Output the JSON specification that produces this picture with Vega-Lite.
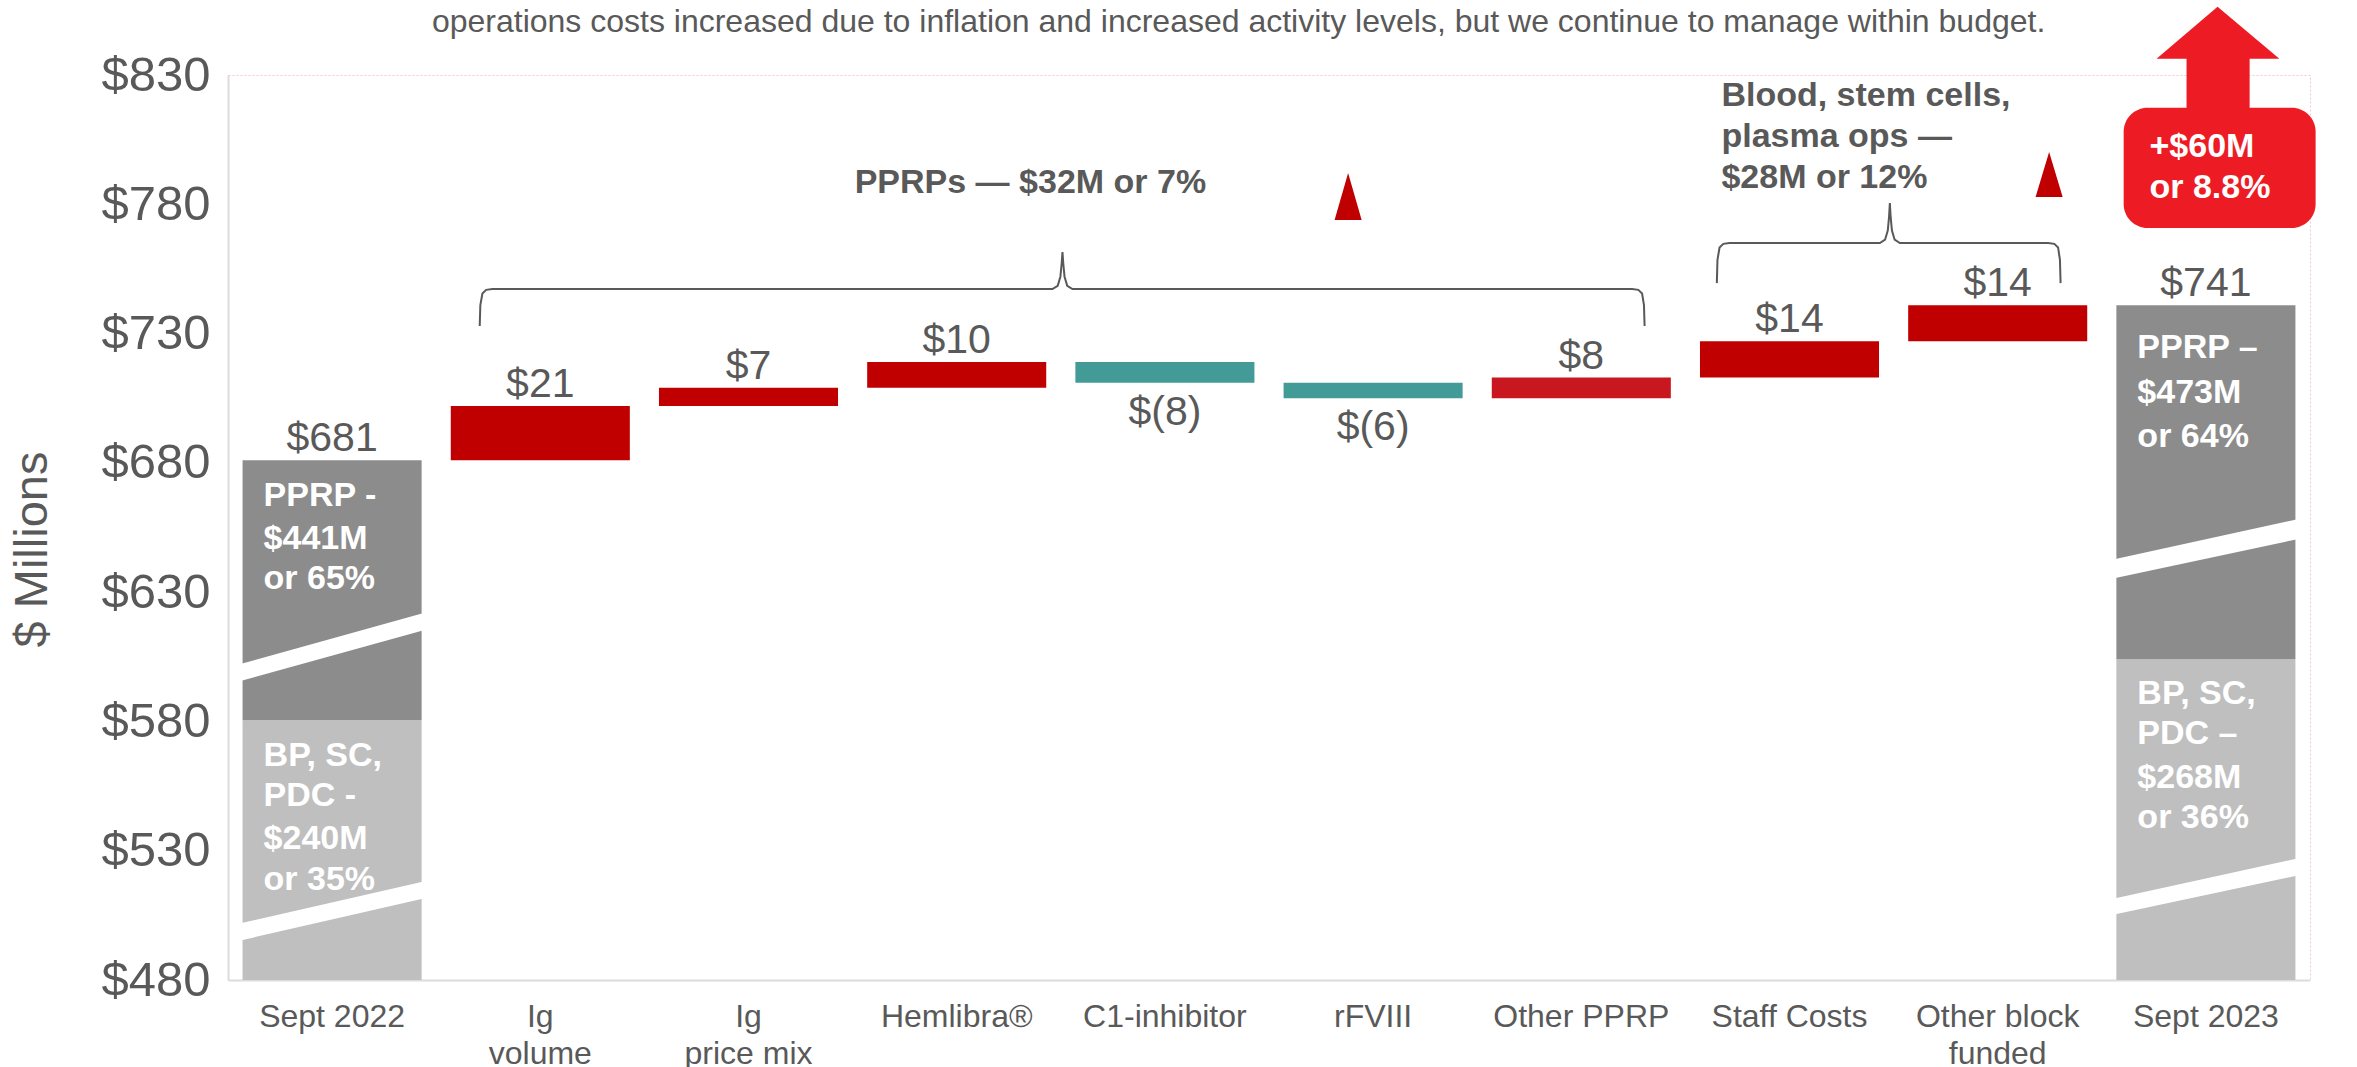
{
  "$schema": "https://vega.github.io/schema/vega-lite/v6.json",
  "width": 2082,
  "height": 905,
  "autosize": {"type": "none"},
  "padding": {"left": 228, "top": 75, "right": 47, "bottom": 87},
  "background": "white",
  "config": {
    "font": "Liberation Sans",
    "view": {"stroke": "#f3c9cc", "strokeDash": [2, 2], "strokeWidth": 1},
    "axis": {"grid": false, "ticks": false, "tickSize": 0, "labelColor": "#595959", "titleColor": "#595959", "labelFont": "Liberation Sans", "titleFont": "Liberation Sans", "domainColor": "#dcdcdc", "domainWidth": 2}
  },
  "datasets": {
    "bars": [
      {"cat": "Sept 2022", "y0": 480, "y1": 580.5, "kind": "light"},
      {"cat": "Sept 2022", "y0": 580.5, "y1": 681, "kind": "dark"},
      {"cat": "Ig volume", "y0": 681, "y1": 702, "kind": "up"},
      {"cat": "Ig price mix", "y0": 702, "y1": 709, "kind": "up"},
      {"cat": "Hemlibra®", "y0": 709, "y1": 719, "kind": "up"},
      {"cat": "C1-inhibitor", "y0": 711, "y1": 719, "kind": "down"},
      {"cat": "rFVIII", "y0": 705, "y1": 711, "kind": "down"},
      {"cat": "Other PPRP", "y0": 705, "y1": 713, "kind": "up2"},
      {"cat": "Staff Costs", "y0": 713, "y1": 727, "kind": "up"},
      {"cat": "Other block funded", "y0": 727, "y1": 741, "kind": "up"},
      {"cat": "Sept 2023", "y0": 480, "y1": 604, "kind": "light"},
      {"cat": "Sept 2023", "y0": 604, "y1": 741, "kind": "dark"}
    ],
    "labels": [
      {"cat": "Sept 2022", "v": 681, "t": "$681", "side": "above"},
      {"cat": "Ig volume", "v": 702, "t": "$21", "side": "above"},
      {"cat": "Ig price mix", "v": 709, "t": "$7", "side": "above"},
      {"cat": "Hemlibra®", "v": 719, "t": "$10", "side": "above"},
      {"cat": "C1-inhibitor", "v": 711, "t": "$(8)", "side": "below"},
      {"cat": "rFVIII", "v": 705, "t": "$(6)", "side": "below"},
      {"cat": "Other PPRP", "v": 713, "t": "$8", "side": "above"},
      {"cat": "Staff Costs", "v": 727, "t": "$14", "side": "above"},
      {"cat": "Other block funded", "v": 741, "t": "$14", "side": "above"},
      {"cat": "Sept 2023", "v": 741, "t": "$741", "side": "above"}
    ],
    "inbar": [
      {"cat": "Sept 2022", "v": 663.2, "t": "PPRP -"},
      {"cat": "Sept 2022", "v": 646.6, "t": "$441M"},
      {"cat": "Sept 2022", "v": 631.1, "t": "or 65%"},
      {"cat": "Sept 2022", "v": 562.6, "t": "BP, SC,"},
      {"cat": "Sept 2022", "v": 547.1, "t": "PDC -"},
      {"cat": "Sept 2022", "v": 530.5, "t": "$240M"},
      {"cat": "Sept 2022", "v": 515.0, "t": "or 35%"},
      {"cat": "Sept 2023", "v": 720.5, "t": "PPRP –"},
      {"cat": "Sept 2023", "v": 703.1, "t": "$473M"},
      {"cat": "Sept 2023", "v": 686.1, "t": "or 64%"},
      {"cat": "Sept 2023", "v": 586.6, "t": "BP, SC,"},
      {"cat": "Sept 2023", "v": 571.1, "t": "PDC –"},
      {"cat": "Sept 2023", "v": 554.1, "t": "$268M"},
      {"cat": "Sept 2023", "v": 538.6, "t": "or 36%"}
    ],
    "breaks": [
      {"id": "a1", "u": 0.06, "t": 602.2, "b": 595.6},
      {"id": "a1", "u": 0.94, "t": 621.9, "b": 615.3},
      {"id": "a2", "u": 0.06, "t": 501.9, "b": 495.3},
      {"id": "a2", "u": 0.94, "t": 518.1, "b": 511.5},
      {"id": "b1", "u": 9.06, "t": 642.7, "b": 635.4},
      {"id": "b1", "u": 9.94, "t": 658.2, "b": 650.5},
      {"id": "b2", "u": 9.06, "t": 511.5, "b": 505.3},
      {"id": "b2", "u": 9.94, "t": 527.0, "b": 520.4}
    ],
    "braces": [
      {"id": "p", "u": 1.209, "v": 732.9},
      {"id": "p", "u": 1.212, "v": 741.0},
      {"id": "p", "u": 1.222, "v": 745.5},
      {"id": "p", "u": 1.240, "v": 746.9},
      {"id": "p", "u": 1.270, "v": 747.2},
      {"id": "p", "u": 3.960, "v": 747.2},
      {"id": "p", "u": 3.985, "v": 748.5},
      {"id": "p", "u": 3.998, "v": 752.0},
      {"id": "p", "u": 4.004, "v": 757.0},
      {"id": "p", "u": 4.008, "v": 761.5},
      {"id": "p", "u": 4.012, "v": 757.0},
      {"id": "p", "u": 4.018, "v": 752.0},
      {"id": "p", "u": 4.031, "v": 748.5},
      {"id": "p", "u": 4.056, "v": 747.2},
      {"id": "p", "u": 6.744, "v": 747.2},
      {"id": "p", "u": 6.774, "v": 746.9},
      {"id": "p", "u": 6.792, "v": 745.5},
      {"id": "p", "u": 6.801, "v": 741.0},
      {"id": "p", "u": 6.804, "v": 732.9},
      {"id": "b", "u": 7.151, "v": 749.5},
      {"id": "b", "u": 7.154, "v": 758.5},
      {"id": "b", "u": 7.164, "v": 763.3},
      {"id": "b", "u": 7.182, "v": 764.7},
      {"id": "b", "u": 7.212, "v": 765.0},
      {"id": "b", "u": 7.934, "v": 765.0},
      {"id": "b", "u": 7.959, "v": 766.3},
      {"id": "b", "u": 7.972, "v": 769.8},
      {"id": "b", "u": 7.978, "v": 775.0},
      {"id": "b", "u": 7.982, "v": 780.5},
      {"id": "b", "u": 7.986, "v": 775.0},
      {"id": "b", "u": 7.992, "v": 769.8},
      {"id": "b", "u": 8.005, "v": 766.3},
      {"id": "b", "u": 8.030, "v": 765.0},
      {"id": "b", "u": 8.742, "v": 765.0},
      {"id": "b", "u": 8.772, "v": 764.7},
      {"id": "b", "u": 8.790, "v": 763.3},
      {"id": "b", "u": 8.799, "v": 758.5},
      {"id": "b", "u": 8.802, "v": 749.5}
    ],
    "tris": [
      {"id": "s1", "u": 5.315, "t": 773.9, "b": 773.9, "kind": "small"},
      {"id": "s1", "u": 5.380, "t": 792.1, "b": 773.9, "kind": "small"},
      {"id": "s1", "u": 5.445, "t": 773.9, "b": 773.9, "kind": "small"},
      {"id": "s2", "u": 8.682, "t": 782.8, "b": 782.8, "kind": "small"},
      {"id": "s2", "u": 8.747, "t": 800.2, "b": 782.8, "kind": "small"},
      {"id": "s2", "u": 8.812, "t": 782.8, "b": 782.8, "kind": "small"},
      {"id": "h", "u": 9.263, "t": 836.3, "b": 836.3, "kind": "big"},
      {"id": "h", "u": 9.556, "t": 856.4, "b": 836.3, "kind": "big"},
      {"id": "h", "u": 9.853, "t": 836.3, "b": 836.3, "kind": "big"}
    ],
    "shaft": [{"u0": 9.407, "u1": 9.710, "v0": 815.0, "v1": 836.8}],
    "box": [{"u0": 9.105, "u1": 10.027, "v0": 770.8, "v1": 817.3}],
    "boxtext": [
      {"u": 9.229, "v": 798.3, "t": "+$60M"},
      {"u": 9.229, "v": 782.4, "t": "or 8.8%"}
    ],
    "notes": [
      {"u": 3.010, "v": 784.4, "t": "PPRPs — $32M or 7%"},
      {"u": 7.173, "v": 818.0, "t": "Blood, stem cells,"},
      {"u": 7.173, "v": 802.1, "t": "plasma ops —"},
      {"u": 7.173, "v": 786.3, "t": "$28M or 12%"}
    ],
    "headline": [
      {"u": 4.854, "v": 846.7, "t": "operations costs increased due to inflation and increased activity levels, but we continue to manage within budget."}
    ]
  },
  "layer": [
    {
      "layer": [
        {
          "data": {"name": "bars"},
          "mark": {"type": "bar"},
          "encoding": {
            "x": {
              "field": "cat", "type": "nominal",
              "scale": {"type": "band", "domain": ["Sept 2022", "Ig volume", "Ig price mix", "Hemlibra®", "C1-inhibitor", "rFVIII", "Other PPRP", "Staff Costs", "Other block funded", "Sept 2023"], "paddingInner": 0.14, "paddingOuter": 0.07},
              "axis": {
                "title": null, "labelAngle": 0, "labelFontSize": 32, "labelPadding": 21, "labelBaseline": "top", "labelLineHeight": 37,
                "labelExpr": "datum.value == 'Ig volume' ? ['Ig', 'volume'] : datum.value == 'Ig price mix' ? ['Ig', 'price mix'] : datum.value == 'Other block funded' ? ['Other block', 'funded'] : datum.value"
              }
            },
            "y": {
              "field": "y1", "type": "quantitative",
              "scale": {"domain": [480, 830], "nice": false, "zero": false},
              "axis": {
                "values": [480, 530, 580, 630, 680, 730, 780, 830], "labelExpr": "'$' + datum.value",
                "labelFontSize": 49, "labelPadding": 18, "title": "$ Millions", "titleFontSize": 47, "titleFontWeight": "normal",
                "titleX": -196, "titleY": 474, "titleAngle": 270, "titleAlign": "center", "titleBaseline": "middle"
              }
            },
            "y2": {"field": "y0"},
            "color": {
              "field": "kind", "type": "nominal", "legend": null,
              "scale": {"domain": ["light", "dark", "up", "down", "up2"], "range": ["#bfbfbf", "#8c8c8c", "#c00000", "#439b97", "#c8171e"]}
            }
          }
        },
        {
          "data": {"name": "labels"},
          "transform": [{"filter": "datum.side == 'above'"}],
          "mark": {"type": "text", "fontSize": 41, "color": "#595959", "align": "center", "baseline": "alphabetic", "dy": -9},
          "encoding": {
            "x": {"field": "cat", "type": "nominal", "title": null},
            "y": {"field": "v", "type": "quantitative", "title": "$ Millions"},
            "text": {"field": "t"}
          }
        },
        {
          "data": {"name": "labels"},
          "transform": [{"filter": "datum.side == 'below'"}],
          "mark": {"type": "text", "fontSize": 41, "color": "#595959", "align": "center", "baseline": "alphabetic", "dy": 42},
          "encoding": {
            "x": {"field": "cat", "type": "nominal", "title": null},
            "y": {"field": "v", "type": "quantitative", "title": "$ Millions"},
            "text": {"field": "t"}
          }
        },
        {
          "data": {"name": "inbar"},
          "mark": {"type": "text", "fontSize": 34, "fontWeight": "bold", "color": "#ffffff", "align": "left", "baseline": "alphabetic", "dx": 21},
          "encoding": {
            "x": {"field": "cat", "type": "nominal", "bandPosition": 0, "title": null},
            "y": {"field": "v", "type": "quantitative", "title": "$ Millions"},
            "text": {"field": "t"}
          }
        }
      ]
    },
    {
      "layer": [
        {
          "data": {"name": "breaks"},
          "mark": {"type": "area", "color": "#ffffff", "opacity": 1},
          "encoding": {
            "x": {"field": "u", "type": "quantitative", "axis": null, "scale": {"domain": [0, 10], "nice": false, "zero": false}},
            "y": {"field": "t", "type": "quantitative", "title": "$ Millions"},
            "y2": {"field": "b"},
            "detail": {"field": "id"}
          }
        },
        {
          "data": {"name": "braces"},
          "mark": {"type": "line", "color": "#595959", "strokeWidth": 2},
          "encoding": {
            "x": {"field": "u", "type": "quantitative", "axis": null, "scale": {"domain": [0, 10], "nice": false, "zero": false}},
            "y": {"field": "v", "type": "quantitative", "title": "$ Millions"},
            "detail": {"field": "id"}
          }
        },
        {
          "data": {"name": "tris"},
          "transform": [{"filter": "datum.kind == 'small'"}],
          "mark": {"type": "area", "color": "#c00000", "opacity": 1},
          "encoding": {
            "x": {"field": "u", "type": "quantitative", "axis": null, "scale": {"domain": [0, 10], "nice": false, "zero": false}},
            "y": {"field": "t", "type": "quantitative", "title": "$ Millions"},
            "y2": {"field": "b"},
            "detail": {"field": "id"}
          }
        },
        {
          "data": {"name": "tris"},
          "transform": [{"filter": "datum.kind == 'big'"}],
          "mark": {"type": "area", "color": "#ed1c24", "opacity": 1},
          "encoding": {
            "x": {"field": "u", "type": "quantitative", "axis": null, "scale": {"domain": [0, 10], "nice": false, "zero": false}},
            "y": {"field": "t", "type": "quantitative", "title": "$ Millions"},
            "y2": {"field": "b"},
            "detail": {"field": "id"}
          }
        },
        {
          "data": {"name": "shaft"},
          "mark": {"type": "rect", "color": "#ed1c24"},
          "encoding": {
            "x": {"field": "u0", "type": "quantitative", "axis": null, "scale": {"domain": [0, 10], "nice": false, "zero": false}},
            "x2": {"field": "u1"},
            "y": {"field": "v0", "type": "quantitative", "title": "$ Millions"},
            "y2": {"field": "v1"}
          }
        },
        {
          "data": {"name": "box"},
          "mark": {"type": "rect", "color": "#ed1c24", "cornerRadius": 24},
          "encoding": {
            "x": {"field": "u0", "type": "quantitative", "axis": null, "scale": {"domain": [0, 10], "nice": false, "zero": false}},
            "x2": {"field": "u1"},
            "y": {"field": "v0", "type": "quantitative", "title": "$ Millions"},
            "y2": {"field": "v1"}
          }
        },
        {
          "data": {"name": "boxtext"},
          "mark": {"type": "text", "fontSize": 34, "fontWeight": "bold", "color": "#ffffff", "align": "left", "baseline": "alphabetic"},
          "encoding": {
            "x": {"field": "u", "type": "quantitative", "axis": null, "scale": {"domain": [0, 10], "nice": false, "zero": false}},
            "y": {"field": "v", "type": "quantitative", "title": "$ Millions"},
            "text": {"field": "t"}
          }
        },
        {
          "data": {"name": "notes"},
          "mark": {"type": "text", "fontSize": 34, "fontWeight": "bold", "color": "#595959", "align": "left", "baseline": "alphabetic"},
          "encoding": {
            "x": {"field": "u", "type": "quantitative", "axis": null, "scale": {"domain": [0, 10], "nice": false, "zero": false}},
            "y": {"field": "v", "type": "quantitative", "title": "$ Millions"},
            "text": {"field": "t"}
          }
        },
        {
          "data": {"name": "headline"},
          "mark": {"type": "text", "fontSize": 32, "color": "#595959", "align": "center", "baseline": "alphabetic"},
          "encoding": {
            "x": {"field": "u", "type": "quantitative", "axis": null, "scale": {"domain": [0, 10], "nice": false, "zero": false}},
            "y": {"field": "v", "type": "quantitative", "title": "$ Millions"},
            "text": {"field": "t"}
          }
        }
      ]
    }
  ],
  "resolve": {"scale": {"x": "independent"}}
}
